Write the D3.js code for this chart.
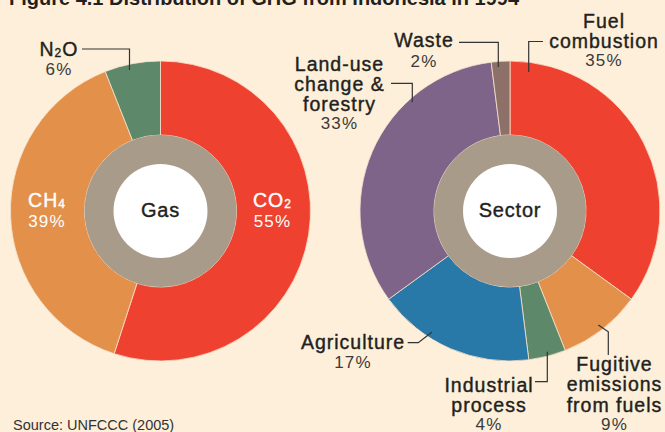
<!DOCTYPE html>
<html><head><meta charset="utf-8">
<script src="https://cdn.jsdelivr.net/npm/d3@7"></script>
<style>
html,body{margin:0;padding:0;background:#FDEFD9;}
svg{display:block;font-family:"Liberation Sans",Arial,sans-serif;}
</style></head>
<body><svg id="c" width="665" height="432"></svg>
<script>
// ---- data ----
const gasCategories = ["CO2", "CH4", "N2O"];
const gasValues = [55, 39, 6];
const sectorCategories = ["Fuel combustion", "Fugitive emissions from fuels", "Industrial process", "Agriculture", "Land-use change & forestry", "Waste"];
const sectorValues = [35, 9, 4, 17, 33, 2];
const titleText = "Figure 4.1  Distribution of GHG from Indonesia in 1994";
const sourceText = "Source: UNFCCC (2005)";

// ---- styles / layout ----
const gasColors = ["#EF4130", "#E2904A", "#5E886A"];
const sectorColors = ["#EF4130", "#E2904A", "#5E886A", "#2878A8", "#7E6489", "#8D7168"];
const ink = "#231F20", pctInk = "#3a3a3a";

const svg = d3.select("#c");
svg.append("rect").attr("width", 665).attr("height", 432).attr("fill", "#FDEFD9");

const pie = d3.pie().sort(null).value(d => d);
const arc = d3.arc().innerRadius(76).outerRadius(150);

function donut(cx, cy, values, colors, centerLabel) {
  const g = svg.append("g").attr("transform", `translate(${cx},${cy})`);
  g.selectAll("path.s").data(pie(values)).join("path")
    .attr("class", "s").attr("d", arc).attr("fill", (d, i) => colors[i])
    .attr("stroke", "#F6E2CC").attr("stroke-width", 0.8);
  g.append("circle").attr("r", 76).attr("fill", "#A89B8A");
  g.append("circle").attr("r", 47).attr("fill", "#FFFFFF");
  g.append("text").attr("x", 0).attr("y", 6).attr("text-anchor", "middle")
    .attr("font-size", 20).attr("letter-spacing", 0.8).attr("fill", ink)
    .attr("stroke", ink).attr("stroke-width", 0.4).text(centerLabel);
  return g;
}
donut(160.5, 211, gasValues, gasColors, "Gas");
donut(510, 211, sectorValues, sectorColors, "Sector");

function nameLabel(x, y, lines, lh, pct, py, color, pctColor) {
  const t = svg.append("text").attr("text-anchor", "middle").attr("font-size", 19.5)
    .attr("letter-spacing", 1).attr("fill", color).attr("stroke", color).attr("stroke-width", 0.4);
  lines.forEach((ln, i) => {
    const ts = t.append("tspan").attr("x", x).attr("y", y + i * lh);
    const m = ln.match(/^(.*?)(\d)(.*)$/);
    if (m && /^(CO|CH|N)$/.test(m[1])) {
      ts.append("tspan").text(m[1]);
      ts.append("tspan").attr("font-size", 12).attr("dy", 1).text(m[2]);
      if (m[3]) ts.append("tspan").attr("dy", -1).text(m[3]);
    } else ts.text(ln);
  });
  svg.append("text").attr("text-anchor", "middle").attr("x", x).attr("y", py)
    .attr("font-size", 17).attr("letter-spacing", 1.2).attr("fill", pctColor).text(pct);
}
const gasPct = gasValues.map(v => v + "%");
const secPct = sectorValues.map(v => v + "%");

nameLabel(272.5, 207.3, [gasCategories[0]], 20, gasPct[0], 226.7, "#FFFFFF", "#FFFFFF");
nameLabel(47, 207.3, [gasCategories[1]], 20, gasPct[1], 226.7, "#FFFFFF", "#FFFFFF");
nameLabel(59, 56, [gasCategories[2]], 20, gasPct[2], 75, ink, pctInk);

nameLabel(604, 28.3, ["Fuel", "combustion"], 20, secPct[0], 65.5, ink, pctInk);
nameLabel(614.5, 370.7, ["Fugitive", "emissions", "from fuels"], 20.5, secPct[1], 430, ink, pctInk);
nameLabel(489, 391.7, ["Industrial", "process"], 20, secPct[2], 430, ink, pctInk);
nameLabel(353, 349.3, ["Agriculture"], 20, secPct[3], 367.7, ink, pctInk);
nameLabel(339.5, 70.7, ["Land-use", "change &", "forestry"], 20, secPct[4], 129, ink, pctInk);
nameLabel(424, 47.3, ["Waste"], 20, secPct[5], 66.7, ink, pctInk);

// leader lines (annotation geometry)
const leaders = [
  [[82, 49], [129.5, 49], [129.5, 70]],
  [[459, 42.3], [498.3, 42.3], [498.3, 67]],
  [[543, 41.5], [528.7, 41.5], [528.7, 72]],
  [[391, 83.3], [412.3, 83.3], [412.3, 102.3]],
  [[407.7, 342.7], [418.3, 342.7], [431.7, 332.3]],
  [[535, 381.7], [547.3, 381.7], [547.3, 351.7]],
  [[608.3, 355], [608.3, 331.7], [598.3, 325]]
];
const line = d3.line();
svg.selectAll("path.ld").data(leaders).join("path").attr("class", "ld")
  .attr("d", line).attr("fill", "none").attr("stroke", "#333").attr("stroke-width", 1.2);

// title and source
svg.append("text").attr("x", 9).attr("y", 5).attr("font-size", 20).attr("font-weight", "bold")
  .attr("fill", ink).text(titleText);
svg.append("text").attr("x", 13).attr("y", 430).attr("font-size", 14.5).attr("fill", "#333").text(sourceText);
</script></body></html>
